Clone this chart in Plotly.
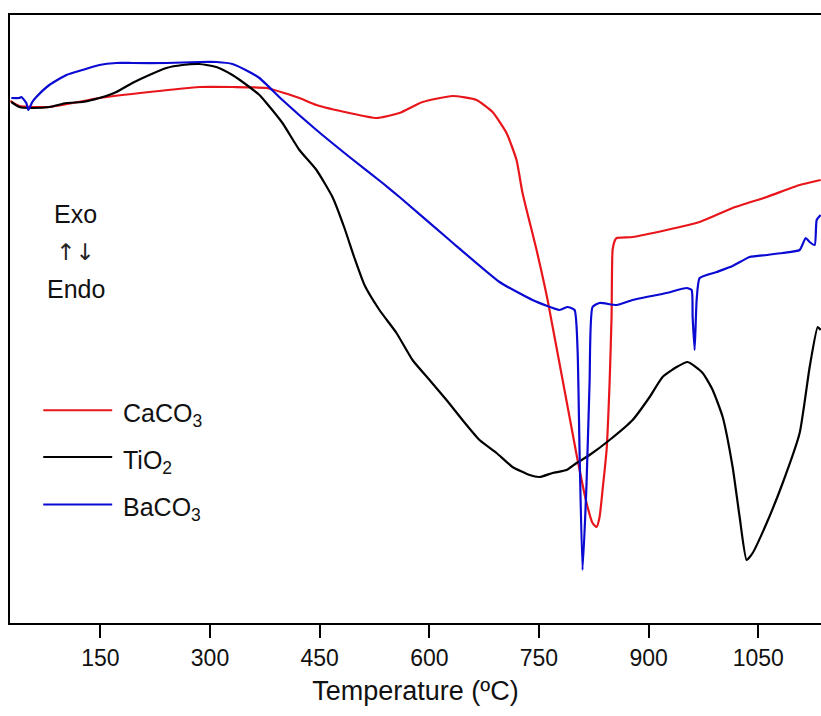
import plotly.graph_objects as go

# ---- Data (temperature in °C, DTA signal in arbitrary units) ----
caco3_T = [26.8, 39.1, 80.2, 148.6, 217.0, 285.5, 330.6, 377.2, 422.3, 445.6, 490.8, 527.7,
           559.2, 590.7, 631.7, 664.6, 686.5, 705.6, 719.3, 727.5, 746.7, 761.8, 801.5, 815.1,
           823.3, 828.8, 832.9, 837.0, 842.5, 846.6, 849.3, 850.7, 853.5, 856.2, 878.1, 924.6,
           969.8, 1014.9, 1061.5, 1106.6, 1135.4]
caco3_S = [52.2, 51.7, 51.6, 52.5, 53.1, 53.6, 53.6, 53.5, 52.5, 51.8, 51.0, 50.5,
           51.0, 52.1, 52.7, 52.3, 51.1, 49.0, 46.3, 43.0, 37.3, 32.3, 16.8, 12.0,
           10.0, 9.6, 10.6, 13.3, 17.3, 24.0, 30.6, 37.3, 38.2, 38.5, 38.6, 39.3,
           40.1, 41.5, 42.6, 43.8, 44.3]

tio2_T = [28.2, 39.1, 56.9, 80.2, 103.5, 125.4, 148.6, 171.9, 193.8, 217.0, 240.3, 262.2,
          285.5, 308.7, 330.6, 353.9, 367.6, 377.2, 399.1, 422.3, 445.6, 467.5, 483.9, 497.6,
          511.3, 531.8, 555.1, 577.0, 600.3, 623.5, 645.4, 668.7, 692.0, 713.8, 737.1, 750.8,
          768.6, 787.8, 801.5, 819.2, 846.6, 878.1, 901.4, 919.1, 938.3, 953.4, 973.9, 987.6,
          1001.3, 1014.9, 1024.5, 1034.1, 1042.3, 1061.5, 1083.4, 1106.6, 1120.3, 1131.3, 1135.4]
tio2_S = [52.1, 51.6, 51.5, 51.6, 52.0, 52.1, 52.5, 53.1, 54.0, 54.8, 55.5, 55.8,
          55.9, 55.6, 54.8, 53.6, 52.8, 52.0, 50.0, 47.3, 45.3, 42.6, 39.5, 36.5,
          33.8, 31.3, 29.0, 26.3, 24.3, 22.3, 20.3, 18.3, 17.0, 15.6, 14.8, 14.6,
          15.0, 15.3, 16.0, 16.8, 18.3, 20.3, 22.6, 24.6, 25.6, 26.1, 25.0, 23.3,
          20.6, 15.6, 10.6, 6.3, 7.0, 10.0, 14.0, 19.0, 25.6, 29.6, 29.3]

baco3_T = [28.2, 39.1, 41.9, 48.7, 51.5, 56.9, 62.4, 80.2, 103.5, 125.4, 148.6, 171.9,
           193.8, 240.3, 285.5, 308.7, 330.6, 353.9, 367.6, 399.1, 445.6, 490.8, 536.0, 559.2,
           627.6, 696.1, 741.2, 778.2, 789.1, 798.7, 802.8, 805.5, 809.6, 815.1, 819.2, 823.3,
           832.9, 856.2, 878.1, 924.6, 952.0, 958.8, 960.2, 962.9, 965.7, 969.8, 993.0, 1014.9,
           1038.2, 1061.5, 1083.4, 1106.6, 1114.9, 1120.3, 1127.2, 1129.9, 1135.4]
baco3_S = [52.5, 52.5, 52.6, 52.0, 51.3, 52.1, 52.6, 53.8, 54.8, 55.3, 55.8, 56.0,
           56.0, 56.0, 56.1, 56.1, 55.9, 55.1, 54.5, 52.3, 49.3, 46.6, 44.0, 42.6,
           38.3, 34.1, 32.3, 31.3, 31.6, 31.3, 27.3, 17.3, 5.3, 14.0, 24.0, 31.6,
           32.0, 31.8, 32.3, 33.0, 33.5, 33.3, 30.6, 27.3, 32.3, 34.5, 35.1, 35.7,
           36.6, 36.8, 37.0, 37.3, 38.5, 38.1, 37.8, 40.3, 40.8]

x_ticks = [150, 300, 450, 600, 750, 900, 1050]

series = [
    ("CaCO<sub>3</sub>", caco3_T, caco3_S, "#e8161b"),
    ("TiO<sub>2</sub>", tio2_T, tio2_S, "#000000"),
    ("BaCO<sub>3</sub>", baco3_T, baco3_S, "#0a0ad2"),
]

fig = go.Figure()
for name, xs, ys, col in series:
    fig.add_trace(go.Scatter(x=xs, y=ys, mode="lines", name=name,
                             line=dict(color=col, width=2.2, shape="spline", smoothing=0.5),
                             showlegend=False))

FONT = "Liberation Sans, Arial, sans-serif"

# Manual legend (long line samples as in the original)
leg_rows = [0.350, 0.273, 0.195]
for (name, _, _, col), yp in zip(series, leg_rows):
    fig.add_shape(type="line", xref="paper", yref="paper", x0=0.041, x1=0.126, y0=yp, y1=yp,
                  line=dict(color=col, width=2))
    fig.add_annotation(xref="paper", yref="paper", x=0.137, y=yp, text=name, showarrow=False,
                       xanchor="left", yanchor="middle", yshift=-5,
                       font=dict(family=FONT, size=25, color="#111111"))

# Exo / Endo label
fig.add_annotation(xref="paper", yref="paper", x=0.081, y=0.672, text="Exo", showarrow=False,
                   xanchor="center", yanchor="middle", font=dict(family=FONT, size=25, color="#111111"))
fig.add_annotation(xref="paper", yref="paper", x=0.081, y=0.610, text="↑↓", showarrow=False,
                   xanchor="center", yanchor="middle", font=dict(family="DejaVu Sans, sans-serif", size=23, color="#222222"))
fig.add_annotation(xref="paper", yref="paper", x=0.081, y=0.550, text="Endo", showarrow=False,
                   xanchor="center", yanchor="middle", font=dict(family=FONT, size=25, color="#111111"))

fig.update_layout(
    width=821, height=716,
    margin=dict(l=10, r=0, t=15, b=93, autoexpand=False),
    paper_bgcolor="white", plot_bgcolor="white",
    font=dict(family=FONT, size=23, color="#111111"),
    xaxis=dict(range=[26.4, 1135.8], tickvals=x_ticks, ticktext=[str(v) for v in x_ticks],
               ticks="outside", ticklen=13, tickwidth=2, tickcolor="black",
               showline=True, linecolor="black", linewidth=2, mirror=True,
               showgrid=False, zeroline=False,
               tickfont=dict(family=FONT, size=23, color="#111111"),
               title=dict(text="Temperature (ºC)", font=dict(family=FONT, size=27, color="#111111"),
                          standoff=12)),
    yaxis=dict(range=[0, 60.8], showticklabels=False, ticks="", showgrid=False, zeroline=False,
               showline=True, linecolor="black", linewidth=2, mirror=False),
)

fig.write_html("out.html", config={"displayModeBar": False},
               post_script="document.body.style.margin='0';document.body.style.overflow='hidden';")
